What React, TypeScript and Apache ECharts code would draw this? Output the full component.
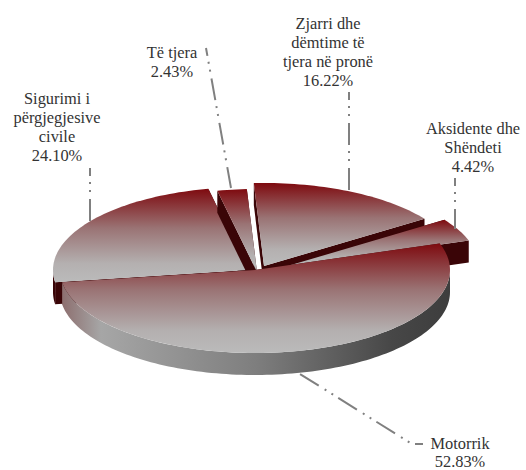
import React, { useEffect, useRef } from "react";
import * as echarts from "echarts";

// Data, in clockwise order from the first slice's start angle; the front slice is last so it paints on top.
const categories = ["Sigurimi i përgjegjesive civile", "Të tjera", "Zjarri dhe dëmtime të tjera në pronë", "Aksidente dhe Shëndeti", "Motorrik"];
const shares = [24.1, 2.43, 16.22, 4.42, 52.83];
const labelLines = [
  ["Sigurimi i", "përgjegjesive", "civile"],
  ["Të tjera"],
  ["Zjarri dhe", "dëmtime të", "tjera në pronë"],
  ["Aksidente dhe", "Shëndeti"],
  ["Motorrik"],
];

// Layout (pixels)
const START_ANGLE = 188.5;
const RX = 195;
const RY = 83;
const DEPTH = 22;
const sliceCenters = [[248, 270], [257, 272], [264, 266], [284, 267], [255, 270]];
const labelPos = [[57, 127], [172, 61.5], [328, 52], [473, 147], [460, 452]];
const labelLineHeights = [19, 19, 19, 19, 18];
const leaders = [
  [[90, 168], [90, 222]],
  [[206, 48], [231, 188]],
  [[349, 92], [349, 192]],
  [[455, 178], [455, 229]],
  [[423, 444], [412, 444], [300, 374]],
];
const leaderOffsets = [14, 14, 14, 14, 14];

const WALL = "#3a0507";
const LINE = "#808080";
const TEXT = "#333333";

const topFill = () =>
  new echarts.graphic.LinearGradient(0, 0, 0, 1, [
    { offset: 0, color: "#7e0a0f" },
    { offset: 0.42, color: "#9a7374" },
    { offset: 0.8, color: "#b4b0b0" },
    { offset: 1, color: "#bbbbbb" },
  ]);
const rimFill = () =>
  new echarts.graphic.LinearGradient(0, 0, 1, 0, [
    { offset: 0, color: "#8d6f6f" },
    { offset: 0.1, color: "#a6a6a6" },
    { offset: 0.5, color: "#7e7e7e" },
    { offset: 0.85, color: "#474747" },
    { offset: 1, color: "#3d3d3d" },
  ]);

const pt = (c: number[], deg: number, dy = 0) => {
  const t = (deg * Math.PI) / 180;
  return [c[0] + RX * Math.cos(t), c[1] - RY * Math.sin(t) + dy];
};
const arc = (c: number[], from: number, to: number, dy = 0) => {
  const n = Math.max(2, Math.ceil(Math.abs(to - from) / 1.5));
  const out: number[][] = [];
  for (let i = 0; i <= n; i++) out.push(pt(c, from + ((to - from) * i) / n, dy));
  return out;
};

function sliceAngles(index: number) {
  const total = shares.reduce((a, b) => a + b, 0);
  const before = shares.slice(0, index).reduce((a, b) => a + b, 0);
  const hi = START_ANGLE - (before / total) * 360;
  const lo = hi - (shares[index] / total) * 360;
  return [lo, hi];
}

function renderItem(params: any) {
  const i = params.dataIndex;
  const c = sliceCenters[i];
  const [lo, hi] = sliceAngles(i);
  const children: any[] = [];

  const wall = (deg: number) => {
    const e = pt(c, deg);
    children.push({
      type: "polygon",
      shape: { points: [c, e, [e[0], e[1] + DEPTH], [c[0], c[1] + DEPTH]] },
      style: { fill: WALL },
      silent: true,
    });
  };
  wall(hi);
  wall(lo);

  // The outer rim shows only along the near half of the ellipse.
  [[180, 360], [-180, 0]].forEach(([a, b]) => {
    const from = Math.max(lo, a);
    const to = Math.min(hi, b);
    if (to > from) {
      const front = i === shares.length - 1;
      children.push({
        type: "polygon",
        shape: { points: [...arc(c, from, to), ...arc(c, to, from, DEPTH)] },
        style: { fill: front ? rimFill() : WALL },
        silent: true,
      });
    }
  });

  children.push({
    type: "polygon",
    shape: { points: [c, ...arc(c, lo, hi)] },
    style: { fill: topFill() },
    silent: true,
  });

  children.push({
    type: "polyline",
    shape: { points: leaders[i] },
    style: { stroke: LINE, lineWidth: 2, fill: null, lineDash: [22, 6, 2, 6, 2, 7], lineDashOffset: leaderOffsets[i] },
    silent: true,
  });

  children.push({
    type: "text",
    x: labelPos[i][0],
    y: labelPos[i][1],
    style: {
      legacy: false,
      text: [...labelLines[i], `${shares[i].toFixed(2)}%`].join("\n"),
      fill: TEXT,
      fontFamily: "Liberation Serif",
      fontSize: 16.4,
      lineHeight: labelLineHeights[i],
      align: "center",
      verticalAlign: "middle",
    },
    silent: true,
  });

  return { type: "group", children };
}

export default function App() {
  const ref = useRef<HTMLDivElement>(null);
  useEffect(() => {
    document.body.style.margin = "0";
    const chart = echarts.init(ref.current!, null, { renderer: "svg" });
    chart.setOption({
      animation: false,
      backgroundColor: "#ffffff",
      series: [
        {
          type: "custom",
          coordinateSystem: "none",
          renderItem,
          clip: false,
          data: categories.map((name, i) => ({ name, value: shares[i] })),
        },
      ],
    });
    return () => chart.dispose();
  }, []);
  return <div ref={ref} style={{ width: 526, height: 470 }} />;
}
